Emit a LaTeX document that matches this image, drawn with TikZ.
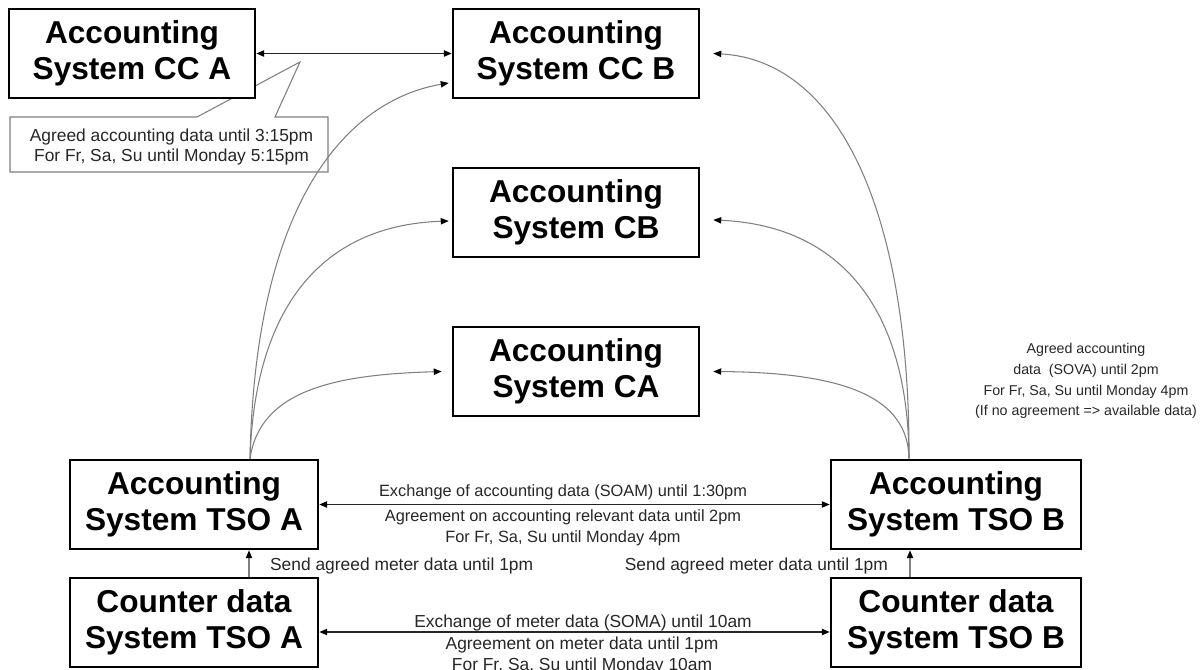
\documentclass[tikz,border=0pt]{standalone}
\usepackage{fontspec}
\setmainfont{Liberation Sans}
\usetikzlibrary{arrows.meta}
\definecolor{linegray}{HTML}{7F7F7F}
\definecolor{textgray}{HTML}{262626}

\begin{document}
\begin{tikzpicture}[
    >={Triangle[length=4.5pt,width=3.6pt,color=black]},
    sysbox/.style={draw=black, line width=1.5pt, fill=white, align=center,
      minimum width=4.92cm, minimum height=1.78cm, inner sep=0pt,
      font=\fontsize{18}{20.5}\selectfont\bfseries},
    pfeil/.style={<->, line width=0.75pt, black!85},
    bogen/.style={->, line width=0.6pt, linegray},
    lbl/.style={font=\fontsize{9.9}{11.6}\selectfont, text=textgray, align=center, inner sep=1pt},
    lblsm/.style={font=\fontsize{9.3}{11.8}\selectfont, text=textgray, align=center, inner sep=1pt},
    notiz/.style={font=\fontsize{8.1}{11.8}\selectfont, text=textgray, align=center, inner sep=1pt}
  ]
    \useasboundingbox (0,0) rectangle (24.04,13.38);
    % Sprechblase an CC A
    \draw[linegray, line width=0.6pt, fill=white]
      (0.2,11.04) -- (3.94,11.04) -- (6.0,12.14) -- (5.5,11.04) -- (6.56,11.04)
      -- (6.56,9.94) -- (0.2,9.94) -- cycle;
    \node[lbl] (hinweis) at (3.43,10.44)
      {Agreed accounting data until 3:15pm\\For Fr, Sa, Su until Monday 5:15pm};
    % Systeme
    \node[sysbox] (ccA) at (2.64,12.31) {Accounting\\System CC A};
    \node[sysbox] (ccB) at (11.52,12.31) {Accounting\\System CC B};
    \node[sysbox] (cb) at (11.52,9.13) {Accounting\\System CB};
    \node[sysbox] (ca) at (11.52,5.95) {Accounting\\System CA};
    \node[sysbox, minimum width=4.96cm] (tsoA) at (3.88,3.29) {Accounting\\System TSO A};
    \node[sysbox, minimum width=4.96cm] (cntA) at (3.88,0.93) {Counter data\\System TSO A};
    \node[sysbox, minimum width=5cm] (tsoB) at (19.12,3.29) {Accounting\\System TSO B};
    \node[sysbox, minimum width=5cm] (cntB) at (19.12,0.93) {Counter data\\System TSO B};
    % Austausch waagerecht
    \draw[pfeil] (ccA.east) -- (ccB.west);
    \draw[pfeil] (tsoA.east) -- (tsoB.west);
    \draw[pfeil] ([yshift=-0.19cm]cntA.east) -- ([yshift=-0.19cm]cntB.west);
    % Zaehlerdaten nach oben
    \draw[bogen] ([xshift=1.1cm]cntA.north) -- ([xshift=1.1cm]tsoA.south);
    \draw[bogen] ([xshift=-0.92cm]cntB.north) -- ([xshift=-0.92cm]tsoB.south);
    % Boegen von TSO A
    \draw[bogen] ([xshift=1.12cm]tsoA.north) .. controls +(0.1,5.2) and +(-2,-0.34)
      .. ([xshift=-0.06cm,yshift=-0.59cm]ccB.west);
    \draw[bogen] ([xshift=1.12cm]tsoA.north) .. controls +(0.1,3.2) and +(-2.4,-0.08)
      .. ([xshift=-0.06cm,yshift=-0.17cm]cb.west);
    \draw[bogen] ([xshift=1.12cm]tsoA.north) .. controls +(0.2,1.4) and +(-2.06,-0.06)
      .. ([xshift=-0.2cm]ca.west);
    % Boegen von TSO B
    \draw[bogen] ([xshift=-0.94cm]tsoB.north) .. controls +(0.02,4.82) and +(2.56,-0.14)
      .. ([xshift=0.26cm]ccB.east);
    \draw[bogen] ([xshift=-0.94cm]tsoB.north) .. controls +(-0.02,3.22) and +(2.36,-0.1)
      .. ([xshift=0.26cm,yshift=-0.15cm]cb.east);
    \draw[bogen] ([xshift=-0.94cm]tsoB.north) .. controls +(-0.02,1.22) and +(2.66,-0.02)
      .. ([xshift=0.26cm]ca.east);
    % Beschriftungen
    \node[lblsm] (soam) at (11.26,3.54) {Exchange of accounting data (SOAM) until 1:30pm};
    \node[lblsm] (abstAcc) at (11.26,2.83)
      {Agreement on accounting relevant data until 2pm\\For Fr, Sa, Su until Monday 4pm};
    \node[lbl] (soma) at (11.66,0.92) {Exchange of meter data (SOMA) until 10am};
    \node[lbl] (abstMeter) at (11.64,0.27)
      {Agreement on meter data until 1pm\\For Fr, Sa, Su until Monday 10am};
    \node[lbl, anchor=west] (sendA) at (5.36,2.06) {Send agreed meter data until 1pm};
    \node[lbl, anchor=east] (sendB) at (17.8,2.06) {Send agreed meter data until 1pm};
    \node[notiz] (sova) at (21.72,5.76)
      {Agreed accounting\\data~ (SOVA) until 2pm\\For Fr, Sa, Su until Monday 4pm\\(If no agreement => available data)};
  \end{tikzpicture}
\end{document}
